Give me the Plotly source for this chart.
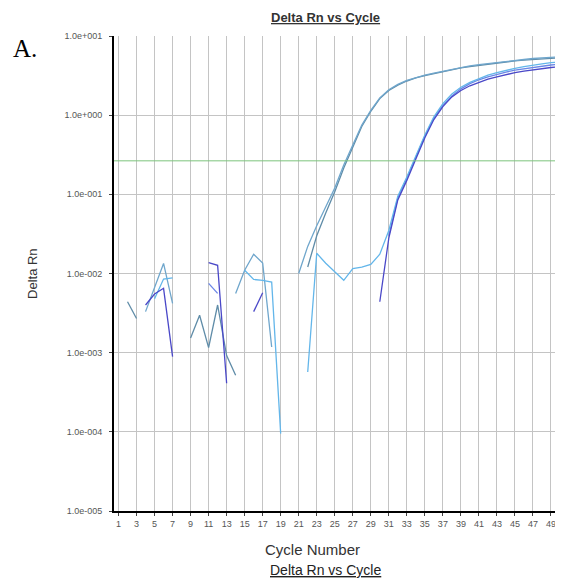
import plotly.graph_objects as go

cycles = list(range(1, 51))
N = None

# Delta Rn per well (None = not plotted, i.e. non-positive on log scale)
well_steel = [N, 0.0044, 0.0027, N, N, N, N, N, 0.00153, 0.00297,
              0.00116, 0.0040, 0.00092, 0.00052, N, N, N, N, N, N,
              N, 0.0121, 0.030, 0.058, 0.108, 0.215, 0.40, 0.72, 1.12, 1.62,
              2.05, 2.4, 2.7, 2.95, 3.15, 3.35, 3.55, 3.75, 3.95, 4.1,
              4.25, 4.4, 4.55, 4.7, 4.85, 4.95, 5.05, 5.15, 5.25, 5.3]

well_sky = [N, N, N, 0.0033, 0.0066, 0.0134, 0.0042, N, N, N,
            N, N, N, 0.0056, 0.011, 0.0175, 0.0136, 0.00118, N, N,
            0.010, 0.022, 0.040, 0.068, 0.12, 0.235, 0.43, 0.75, 1.15, 1.65,
            2.1, 2.45, 2.75, 3.0, 3.2, 3.4, 3.6, 3.8, 4.0, 4.2,
            4.35, 4.5, 4.65, 4.8, 4.95, 5.05, 5.2, 5.3, 5.4, 5.45]

well_purple = [N, N, N, 0.0040, 0.0055, 0.0065, 0.00089, N, N, N,
               0.0137, 0.0127, 0.00041, N, N, 0.0033, 0.0057, N, N, N,
               N, N, N, N, N, N, N, N, N, 0.0044,
               0.028, 0.085, 0.15, 0.28, 0.52, 0.88, 1.28, 1.7, 2.05, 2.35,
               2.6, 2.85, 3.05, 3.25, 3.45, 3.6, 3.75, 3.9, 4.0, 4.1]

well_light = [N, N, N, N, 0.0048, 0.0085, 0.0088, N, N, N,
              N, N, N, N, 0.011, 0.0084, 0.0082, 0.0078, 0.000095, N,
              N, 0.00057, 0.018, 0.0135, 0.0105, 0.0082, 0.0115, 0.012, 0.013, 0.0175,
              0.035, 0.095, 0.165, 0.30, 0.56, 0.95, 1.4, 1.85, 2.25, 2.6,
              2.9, 3.2, 3.45, 3.7, 3.9, 4.1, 4.3, 4.45, 4.6, 4.7]

well_blue = [N, N, N, N, N, N, N, N, N, N,
             0.0075, 0.0056, N, N, N, N, N, N, N, N,
             N, N, N, N, N, N, N, N, N, N,
             0.03, 0.09, 0.16, 0.29, 0.54, 0.92, 1.33, 1.75, 2.15, 2.5,
             2.8, 3.05, 3.3, 3.5, 3.7, 3.85, 4.0, 4.15, 4.3, 4.4]

threshold = 0.265

y_tickvals = [1e1, 1e0, 1e-1, 1e-2, 1e-3, 1e-4, 1e-5]
y_ticktext = ["1.0e+001", "1.0e+000", "1.0e-001", "1.0e-002", "1.0e-003", "1.0e-004", "1.0e-005"]
x_tickvals = list(range(1, 50, 2))

series = [
    (well_steel, "#5f8ca8"),
    (well_sky, "#6fa6cc"),
    (well_blue, "#6a86e6"),
    (well_light, "#63b6ea"),
    (well_purple, "#4a48c8"),
]

fig = go.Figure()
for vals, col in series:
    fig.add_trace(go.Scatter(x=cycles, y=vals, mode="lines",
                             line=dict(color=col, width=1.3),
                             connectgaps=False, showlegend=False, hoverinfo="skip"))

fig.add_shape(type="line", xref="paper", x0=0, x1=1, yref="y", y0=threshold, y1=threshold,
              line=dict(color="#7cc47c", width=1), layer="above")

# page has an 8px body margin; figure is sized so the plot sits where the reference's does
fig.update_layout(
    width=555, height=572,
    margin=dict(l=106, r=3, t=28, b=69),
    paper_bgcolor="white", plot_bgcolor="white",
    font=dict(family="Liberation Sans, Arial, sans-serif", color="#333"),
    xaxis=dict(range=[0.5, 50], tickvals=x_tickvals, ticks="outside", ticklen=3,
               tickcolor="#444", tickfont=dict(size=9, color="#555"),
               showgrid=True, gridcolor="#c4c4c4", gridwidth=1,
               showline=True, linecolor="black", linewidth=2, zeroline=False),
    yaxis=dict(type="log", range=[-5, 1], tickvals=y_tickvals, ticktext=y_ticktext,
               ticks="outside", ticklen=3, tickcolor="#444", ticklabelstandoff=5,
               tickfont=dict(size=9, color="#555"),
               showgrid=True, gridcolor="#c4c4c4", gridwidth=1,
               showline=True, linecolor="black", linewidth=2, zeroline=False),
    annotations=[
        dict(text="<u><b>Delta Rn vs Cycle</b></u>", xref="paper", yref="paper",
             x=0.475, y=1, yshift=19, showarrow=False, xanchor="center", yanchor="middle",
             font=dict(size=13, color="#333")),
        dict(text="Cycle Number", xref="paper", yref="paper",
             x=0.444, y=0, yshift=-38, showarrow=False, xanchor="center", yanchor="middle",
             font=dict(size=15, color="#333")),
        dict(text="<u>Delta Rn vs Cycle</u>", xref="paper", yref="paper",
             x=0.475, y=0, yshift=-59, showarrow=False, xanchor="center", yanchor="middle",
             font=dict(size=14, color="#222")),
        dict(text="Delta Rn", xref="paper", yref="paper", x=-0.1816, y=0.499, textangle=-90,
             showarrow=False, xanchor="center", yanchor="middle",
             font=dict(size=13, color="#333")),
        dict(text="A.", xref="paper", yref="paper", x=-0.1996, y=1, yshift=-12,
             showarrow=False, xanchor="center", yanchor="middle",
             font=dict(size=25, family="Liberation Serif, Times New Roman, serif", color="black")),
    ],
)

fig.write_html("out.html")
